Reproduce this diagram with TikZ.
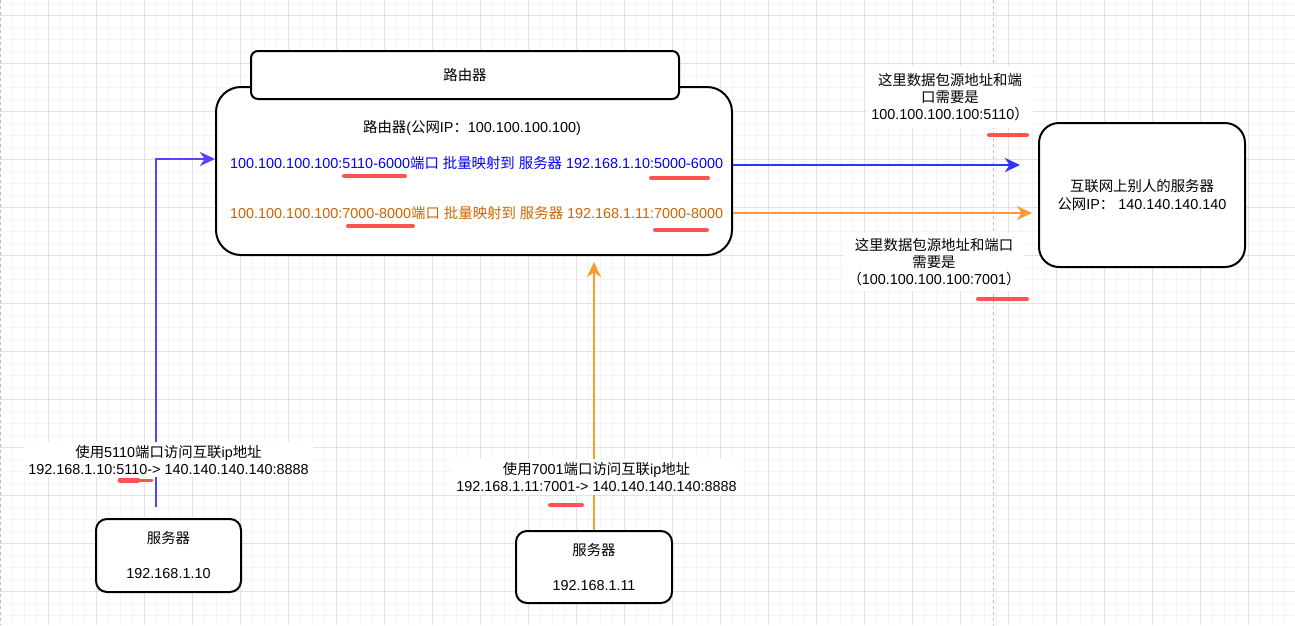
\documentclass[tikz,border=0pt]{standalone}
\usepackage{fontspec}
\setmainfont{Liberation Sans}
\newfontfamily\cjk{Noto Sans CJK SC}
\usetikzlibrary{arrows.meta}
\newcommand\zh[1]{{\cjk #1}}
\definecolor{gridmajor}{HTML}{E2E2E2}
\definecolor{gridminor}{HTML}{F4F4F4}
\definecolor{pagedash}{HTML}{BBBBBB}
\definecolor{txtblue}{HTML}{0000FF}
\definecolor{txtorange}{HTML}{CC6600}
\definecolor{arrblue}{HTML}{3333FF}
\definecolor{arrviolet}{HTML}{5C40FF}
\definecolor{arrorange}{HTML}{FF9933}
\definecolor{mark}{HTML}{FF5252}
\tikzset{
  txt/.style={font=\fontsize{14.4}{17}\selectfont, align=center, inner sep=0pt},
  rbox/.style={draw=black, line width=2pt, fill=white, txt},
  lbl/.style={txt, fill=white, inner xsep=4pt, inner ysep=3pt},
  conn/.style={line width=2.4pt, -{Stealth[length=15pt,width=14pt,inset=4.5pt]}},
  redmark/.style={draw=mark, line width=4pt, line cap=round},
}
\begin{document}
\begin{tikzpicture}[x=1pt,y=-1pt]
\useasboundingbox (0,0) rectangle (1295,625);
\fill[white] (0,0) rectangle (1295,625);
% grid
\foreach \x in {12,24,...,1292} \draw[gridminor, line width=0.8pt] (\x,0) -- (\x,625);
\foreach \y in {3,15,...,623} \draw[gridminor, line width=0.8pt] (0,\y) -- (1295,\y);
\foreach \x in {48,96,...,1290} \draw[gridmajor, line width=0.8pt] (\x,0) -- (\x,625);
\foreach \y in {15,63,...,620} \draw[gridmajor, line width=0.8pt] (0,\y) -- (1295,\y);
% page dashed lines
\draw[pagedash, line width=0.8pt, dash pattern=on 3pt off 3pt] (0.5,0) -- (0.5,625);
\draw[pagedash, line width=0.8pt, dash pattern=on 3pt off 3pt] (993,0) -- (993,625);

% boxes
\node[rbox, minimum width=516pt, minimum height=168pt, rounded corners=25pt] (router) at (474,171) {};
\node[rbox, minimum width=428pt, minimum height=48pt, rounded corners=7pt] (rtitle) at (465,75) {\zh{路由器}};
\node[txt] (rhead) at (472,128) {\zh{路由器}(\zh{公网}IP\zh{：}100.100.100.100)};
\node[txt, anchor=west, text=txtblue] (rowblue) at (230,163) {100.100.100.100:5110-6000\zh{端口} \zh{批量映射到} \zh{服务器} 192.168.1.10:5000-6000};
\node[txt, anchor=west, text=txtorange] (roworange) at (230,213) {100.100.100.100:7000-8000\zh{端口} \zh{批量映射到} \zh{服务器} 192.168.1.11:7000-8000};

\node[rbox, minimum width=206pt, minimum height=144pt, rounded corners=20pt] (remote) at (1142,195) {\zh{互联网上别人的服务器}\\[1pt]\zh{公网}IP\zh{：} 140.140.140.140};
\node[rbox, minimum width=145pt, minimum height=73pt, rounded corners=11pt] (srvA) at (168.5,555.5) {\zh{服务器}\\[18pt]192.168.1.10};
\node[rbox, minimum width=156pt, minimum height=72pt, rounded corners=11pt] (srvB) at (594,567) {\zh{服务器}\\[18pt]192.168.1.11};

% free ends
\coordinate (aStart) at (156,507);
\coordinate (blueEnd) at (1020,165);
\coordinate (orangeEnd) at (1032,213);
\coordinate (upEnd) at (594,262);

% connectors
\draw[conn, arrviolet] (aStart) |- ([yshift=12pt]router.west);
\draw[conn, arrblue] ([yshift=6pt]router.east) -- (blueEnd);
\draw[conn, arrorange] ([yshift=-42pt]router.east) -- (orangeEnd);
\draw[conn, arrorange] (srvB.north) -- (upEnd);

% labels
\node[lbl, inner ysep=7pt] (lblUR) at (950,97) {\zh{这里数据包源地址和端}\\\zh{口需要是}\\100.100.100.100:5110\zh{）}};
\node[lbl, inner ysep=5pt] (lblLR) at (934,262) {\zh{这里数据包源地址和端口}\\\zh{需要是}\\\zh{（}100.100.100.100:7001\zh{）}};
\node[lbl] (lblBL) at (168.5,459.5) {\zh{使用}5110\zh{端口访问互联}ip\zh{地址}\\192.168.1.10:5110-> 140.140.140.140:8888};
\node[lbl] (lblBM) at (596.5,477) {\zh{使用}7001\zh{端口访问互联}ip\zh{地址}\\192.168.1.11:7001-> 140.140.140.140:8888};

% red marks
\draw[redmark] (344,176) -- (405,176);
\draw[redmark] (651,178) -- (708,178);
\draw[redmark] (348,226) -- (413,226);
\draw[redmark] (655,230) -- (707,230);
\draw[redmark] (989,135) -- (1027,135);
\draw[redmark] (978,299) -- (1027,299);
\draw[redmark] (550,505) -- (582,505);
\draw[redmark, line width=5pt] (120,480) -- (138,480);
\draw[redmark, line width=3pt] (138,480) -- (152,480);
\end{tikzpicture}
\end{document}
